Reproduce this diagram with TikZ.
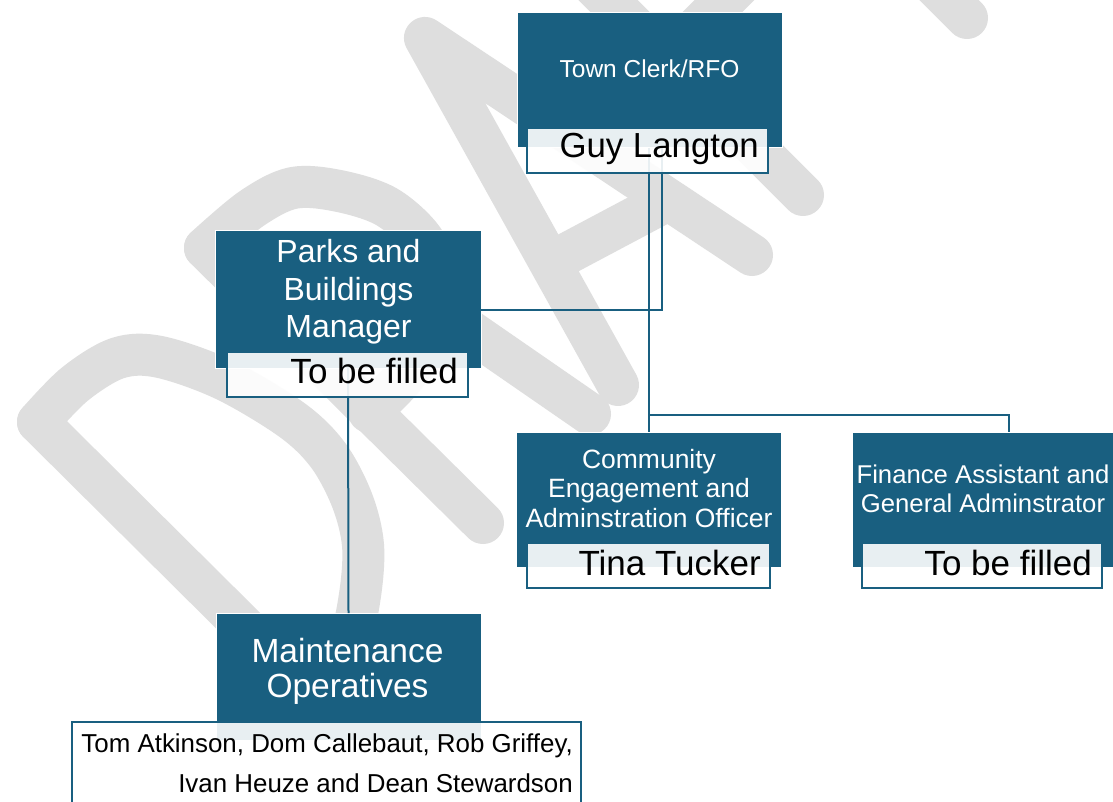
\documentclass[tikz,border=0pt]{standalone}
\usepackage{fontspec}
\setmainfont{Liberation Sans}
\definecolor{teal1}{RGB}{25,95,128}
\definecolor{wm}{RGB}{222,222,222}
\begin{document}
\begin{tikzpicture}[x=1pt,y=-1pt,
  darkbox/.style={draw=white,line width=1pt,fill=teal1,inner sep=0pt,outer sep=0pt},
  namebox/.style={draw=teal1,line width=1.8pt,fill=white,fill opacity=0.9,inner sep=0pt,outer sep=0pt},
  wmstroke/.style={draw=wm,line width=42pt,line cap=round,line join=round},
  conn/.style={draw=teal1,line width=2pt},
  wtext/.style={text=white,inner sep=0pt,anchor=base},
  btext/.style={text=black,inner sep=0pt,anchor=base east},
  ltext/.style={text=black,inner sep=0pt,anchor=base east},
]
\useasboundingbox (0,0) rectangle (1113,802);
\clip (0,0) rectangle (1113,802);
\fill[white] (0,0) rectangle (1113,802);
% ---- watermark ----
% D
\draw[wmstroke] (38,422) -- (316,698);
\draw[wmstroke] plot[smooth,tension=0.55] coordinates {(38,422) (75,384) (118,358) (160,357) (225,380) (292,420) (328,455) (352,500) (363,545) (360,595) (348,645) (316,698)};
% R
\draw[wmstroke] (205,248) -- (483,523);
\draw[wmstroke] plot[smooth,tension=0.55] coordinates {(205,248) (251,209) (293,188) (339,191) (387,207) (424,241) (438,283) (431,333) (404,377) (369,412)};
\draw[wmstroke] (425,300) -- (590,414);
% A
\draw[wmstroke] (618,385) -- (425,38) -- (752,255);
\draw[wmstroke] (555,260) -- (668,200);
% F
\draw[wmstroke] (536,-72) -- (803,195);
\draw[wmstroke] (666,58) -- (768,-43);
% T
\draw[wmstroke] (700,-250) -- (967,18);
% ---- boxes ----
\node[darkbox,minimum width=265pt,minimum height=135pt] (tc) at (649.5,80.5) {};
\node[darkbox,minimum width=266pt,minimum height=137pt] (pb) at (348,299.5) {};
\node[darkbox,minimum width=265pt,minimum height=135pt] (ce) at (648.5,499.5) {};
\node[darkbox,minimum width=265pt,minimum height=135pt] (fa) at (984.5,499.5) {};
\node[darkbox,minimum width=265pt,minimum height=127pt] (mo) at (348.5,676.5) {};
% ---- connectors ----
\coordinate (j1) at (662,310);
\coordinate (j2) at (649,415);
\coordinate (fatop) at (1009,432);
\draw[conn] (tc.south -| j1) -- (j1) -- (pb.east |- j1);
\draw[conn] (tc.south -| ce.north) -- (ce.north);
\draw[conn] (ce.north |- j2) -| (fatop);
\draw[conn] (pb.south) -- (mo.north);
% ---- name boxes ----
\node[namebox,minimum width=241pt,minimum height=45pt] (tcn) at (647.5,150.5) {};
\node[namebox,minimum width=241pt,minimum height=45pt] (pbn) at (347.5,374.5) {};
\node[namebox,minimum width=243pt,minimum height=45pt] (cen) at (648.5,565.5) {};
\node[namebox,minimum width=240pt,minimum height=45pt] (fan) at (982,565.5) {};
\node[namebox,minimum width=509pt,minimum height=108pt] (mon) at (326.5,776) {};
% ---- texts ----
\node[wtext,font=\fontsize{24.5}{28}\selectfont] (tct) at (649.5,78) {Town Clerk/RFO};
\node[btext,font=\fontsize{34.8}{40}\selectfont] (tcnt) at (759,158) {Guy Langton};
\node[wtext,font=\fontsize{32}{38}\selectfont] (pbt1) at (348.5,262) {Parks and};
\node[wtext,font=\fontsize{32}{38}\selectfont] (pbt2) at (348.5,300) {Buildings};
\node[wtext,font=\fontsize{32}{38}\selectfont] (pbt3) at (348.5,337) {Manager};
\node[btext,font=\fontsize{35}{40}\selectfont] (pbnt) at (458,383) {To be filled};
\node[wtext,font=\fontsize{26.5}{30}\selectfont] (cet1) at (649,468) {Community};
\node[wtext,font=\fontsize{26.5}{30}\selectfont] (cet2) at (649,497) {Engagement and};
\node[wtext,font=\fontsize{26.5}{30}\selectfont] (cet3) at (649,527) {Adminstration Officer};
\node[btext,font=\fontsize{35}{40}\selectfont] (cent) at (761,575) {Tina Tucker};
\node[wtext,font=\fontsize{25.7}{30}\selectfont] (fat1) at (983,483) {Finance Assistant and};
\node[wtext,font=\fontsize{25.7}{30}\selectfont] (fat2) at (983,512) {General Adminstrator};
\node[btext,font=\fontsize{35}{40}\selectfont] (fant) at (1092,575) {To be filled};
\node[wtext,font=\fontsize{33.5}{38}\selectfont] (mot1) at (347.5,662) {Maintenance};
\node[wtext,font=\fontsize{33.5}{38}\selectfont] (mot2) at (347.5,697) {Operatives};
\node[ltext,font=\fontsize{25.9}{30}\selectfont] (mont1) at (573,752) {Tom Atkinson, Dom Callebaut, Rob Griffey,};
\node[ltext,font=\fontsize{25.9}{30}\selectfont] (mont2) at (573,792) {Ivan Heuze and Dean Stewardson};
\end{tikzpicture}
\end{document}
